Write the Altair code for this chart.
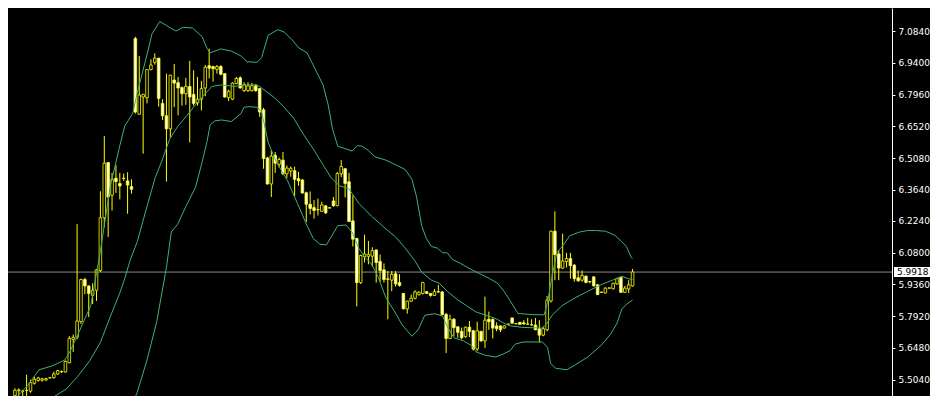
import altair as alt
import pandas as pd

# ---------------- data ----------------
opens = [5.432, 5.454, 5.453, 5.455, 5.452, 5.488, 5.501, 5.502, 5.503, 5.512,
         5.513, 5.530, 5.541, 5.539, 5.581, 5.687, 5.697, 5.767, 5.958, 5.929,
         5.886, 5.909, 5.999, 6.238, 6.488, 6.340, 6.417, 6.393, 6.417, 6.405,
         6.379, 7.050, 6.707, 6.785, 6.782, 6.909, 6.942, 6.961, 6.756, 6.700,
         6.641, 6.862, 6.850, 6.828, 6.800, 6.833, 6.797, 6.758, 6.775, 6.826,
         6.927, 6.923, 6.910, 6.923, 6.891, 6.782, 6.775, 6.846, 6.872, 6.814,
         6.814, 6.814, 6.836, 6.823, 6.727, 6.509, 6.391, 6.521, 6.480, 6.499,
         6.437, 6.450, 6.451, 6.415, 6.409, 6.351, 6.299, 6.284, 6.275, 6.267,
         6.292, 6.283, 6.314, 6.293, 6.437, 6.460, 6.401, 6.224, 6.144, 5.944,
         6.062, 6.063, 6.064, 6.092, 6.040, 6.002, 5.961, 5.955, 5.984, 5.944,
         5.895, 5.825, 5.860, 5.873, 5.889, 5.895, 5.903, 5.895, 5.886, 5.903,
         5.902, 5.800, 5.691, 5.778, 5.744, 5.723, 5.699, 5.742, 5.726, 5.643,
         5.723, 5.680, 5.778, 5.778, 5.748, 5.748, 5.738, 5.756, 5.784, 5.758,
         5.764, 5.762, 5.756, 5.753, 5.752, 5.735, 5.706, 5.730, 5.861, 6.177,
         6.074, 6.010, 6.040, 6.053, 6.023, 5.966, 5.955, 5.973, 5.949, 5.970,
         5.934, 5.901, 5.897, 5.920, 5.916, 5.938, 5.967, 5.900, 5.915, 5.929]
highs = [5.465, 5.465, 5.455, 5.527, 5.504, 5.517, 5.517, 5.513, 5.513, 5.515,
         5.540, 5.549, 5.545, 5.591, 5.701, 5.709, 6.209, 5.962, 5.966, 5.931,
         5.941, 6.006, 6.358, 6.608, 6.490, 6.441, 6.478, 6.441, 6.438, 6.444,
         6.412, 7.058, 6.971, 6.799, 6.910, 6.956, 6.983, 6.963, 6.775, 6.891,
         6.886, 6.935, 6.876, 6.833, 6.872, 6.949, 6.906, 6.876, 6.858, 6.930,
         7.004, 6.927, 6.930, 6.930, 6.893, 6.818, 6.852, 6.876, 6.879, 6.852,
         6.852, 6.849, 6.843, 6.826, 6.736, 6.514, 6.543, 6.536, 6.511, 6.536,
         6.475, 6.470, 6.470, 6.446, 6.414, 6.356, 6.357, 6.318, 6.325, 6.310,
         6.295, 6.285, 6.332, 6.445, 6.499, 6.462, 6.441, 6.340, 6.147, 6.071,
         6.161, 6.133, 6.104, 6.094, 6.071, 6.031, 5.996, 5.996, 5.996, 5.982,
         5.897, 5.862, 5.890, 5.909, 5.905, 5.948, 5.905, 5.897, 5.915, 5.934,
         5.905, 5.807, 5.799, 5.784, 5.745, 5.740, 5.745, 5.770, 5.730, 5.767,
         5.726, 5.880, 5.813, 5.781, 5.764, 5.749, 5.750, 5.757, 5.785, 5.758,
         5.765, 5.774, 5.784, 5.778, 5.784, 5.774, 5.745, 5.883, 6.180, 6.267,
         6.089, 6.166, 6.079, 6.079, 6.028, 5.999, 5.999, 5.977, 5.952, 5.973,
         5.938, 5.902, 5.923, 5.921, 5.944, 5.966, 5.970, 5.929, 5.955, 6.006]
lows = [5.428, 5.430, 5.430, 5.430, 5.445, 5.482, 5.495, 5.495, 5.498, 5.510,
        5.509, 5.526, 5.535, 5.537, 5.578, 5.630, 5.687, 5.757, 5.891, 5.788,
        5.847, 5.861, 5.992, 6.195, 6.151, 6.271, 6.350, 6.321, 6.405, 6.256,
        6.347, 6.710, 6.705, 6.528, 6.756, 6.906, 6.932, 6.741, 6.681, 6.402,
        6.601, 6.739, 6.702, 6.746, 6.750, 6.579, 6.746, 6.746, 6.724, 6.789,
        6.869, 6.855, 6.891, 6.884, 6.782, 6.767, 6.771, 6.843, 6.823, 6.808,
        6.808, 6.810, 6.808, 6.695, 6.460, 6.388, 6.332, 6.441, 6.466, 6.431,
        6.417, 6.424, 6.335, 6.383, 6.347, 6.219, 6.253, 6.234, 6.248, 6.266,
        6.255, 6.280, 6.288, 6.290, 6.422, 6.330, 6.219, 6.108, 5.836, 5.938,
        6.035, 6.027, 6.016, 5.944, 5.948, 5.944, 5.778, 5.905, 5.926, 5.926,
        5.823, 5.803, 5.857, 5.868, 5.886, 5.890, 5.893, 5.880, 5.883, 5.900,
        5.796, 5.625, 5.688, 5.701, 5.694, 5.687, 5.694, 5.697, 5.636, 5.633,
        5.675, 5.648, 5.730, 5.691, 5.723, 5.720, 5.736, 5.754, 5.759, 5.756,
        5.754, 5.752, 5.754, 5.749, 5.730, 5.673, 5.701, 5.723, 5.854, 5.955,
        5.955, 6.006, 6.013, 5.962, 5.948, 5.948, 5.948, 5.941, 5.941, 5.926,
        5.887, 5.898, 5.895, 5.918, 5.913, 5.934, 5.897, 5.897, 5.897, 5.926]
closes = [5.456, 5.458, 5.452, 5.456, 5.491, 5.506, 5.512, 5.508, 5.509, 5.513,
          5.530, 5.545, 5.540, 5.587, 5.691, 5.696, 5.770, 5.958, 5.929, 5.895,
          5.909, 6.002, 6.238, 6.485, 6.332, 6.412, 6.402, 6.382, 6.416, 6.386,
          6.367, 6.717, 6.794, 6.797, 6.909, 6.930, 6.961, 6.778, 6.700, 6.641,
          6.884, 6.848, 6.826, 6.800, 6.833, 6.785, 6.756, 6.775, 6.823, 6.920,
          6.916, 6.913, 6.923, 6.888, 6.785, 6.811, 6.848, 6.869, 6.826, 6.840,
          6.836, 6.836, 6.814, 6.717, 6.506, 6.391, 6.517, 6.485, 6.502, 6.437,
          6.463, 6.462, 6.412, 6.405, 6.350, 6.299, 6.280, 6.271, 6.274, 6.296,
          6.260, 6.282, 6.292, 6.438, 6.470, 6.393, 6.221, 6.141, 5.944, 6.067,
          6.074, 6.072, 6.089, 6.035, 5.999, 5.958, 5.959, 5.982, 5.938, 5.931,
          5.825, 5.860, 5.873, 5.902, 5.900, 5.944, 5.895, 5.886, 5.903, 5.901,
          5.799, 5.691, 5.778, 5.740, 5.719, 5.694, 5.742, 5.723, 5.643, 5.726,
          5.680, 5.774, 5.767, 5.738, 5.735, 5.730, 5.748, 5.755, 5.760, 5.757,
          5.755, 5.757, 5.755, 5.752, 5.730, 5.706, 5.735, 5.865, 6.177, 6.071,
          6.010, 6.042, 6.053, 6.021, 5.962, 5.952, 5.977, 5.945, 5.948, 5.929,
          5.890, 5.900, 5.919, 5.919, 5.941, 5.962, 5.900, 5.919, 5.934, 5.992]

# Bollinger bands (bar index, price)
upper_idx = [0, 3.25, 6.2, 9.5, 12.8, 14.1, 16.2, 19.5, 22, 24.5, 27, 28.25, 30.3, 31.5,
             33.7, 35.3, 37.3, 39, 40.5, 41.5, 43.2, 45.7, 48.2, 49.4, 50.25, 53, 55.7,
             58.2, 59.8, 62.3, 63.5, 65.2, 67.7, 69.3, 71.4, 73.1, 75.2, 77.25, 79.3,
             80.6, 81.8, 83.1, 85.2, 86.8, 88.1, 89.3, 91, 92.7, 95.5, 98, 100.5, 102.2,
             103.4, 104.7, 105.9, 107.2, 108.8, 110.1, 111.3, 112.6, 114.7, 117.2, 119.7,
             122.2, 124.25, 125.9, 127.5, 129.5, 133.25, 136.25, 137.1, 138.25, 139.5,
             141.2, 142.8, 145.3, 147.4, 149.5, 152, 154.5, 156.2, 157.4, 158.7, 159]
upper_val = [5.417, 5.477, 5.549, 5.566, 5.593, 5.629, 5.709, 5.839, 6.087, 6.376, 6.565,
             6.653, 6.710, 6.805, 6.956, 7.072, 7.127, 7.109, 7.093, 7.084, 7.101, 7.098,
             7.058, 7.007, 6.985, 7.003, 6.993, 6.971, 6.945, 6.942, 6.963, 7.065, 7.090,
             7.080, 7.043, 7.007, 6.985, 6.913, 6.840, 6.753, 6.637, 6.562, 6.550, 6.540,
             6.565, 6.562, 6.543, 6.514, 6.499, 6.478, 6.456, 6.412, 6.332, 6.202, 6.144,
             6.108, 6.100, 6.079, 6.079, 6.049, 6.031, 6.006, 5.984, 5.962, 5.941, 5.905,
             5.861, 5.804, 5.799, 5.798, 5.854, 5.970, 6.079, 6.115, 6.156, 6.173, 6.180,
             6.180, 6.177, 6.158, 6.129, 6.108, 6.057, 6.053]

middle_idx = [9.5, 10.3, 13.25, 16.2, 19.1, 22, 24.5, 27, 28.25, 29.7, 31.5, 34, 36.1,
              37.75, 39.8, 41.9, 44, 47.3, 49.4, 50.7, 53.2, 56.5, 59, 62.3, 63.5, 66.8,
              69.3, 71.8, 74.3, 76.8, 79.3, 81.4, 83.5, 86, 88.5, 91.8, 95.5, 98, 100.5,
              103, 104.7, 107.2, 109.25, 111.3, 113.8, 116.3, 118.8, 121.3, 123.8, 125.9,
              127.5, 130.75, 135.75, 136.7, 138.3, 140.8, 144.2, 147.5, 150.8, 154.2,
              156.25, 157.9, 159]
middle_val = [5.413, 5.430, 5.462, 5.520, 5.586, 5.673, 5.788, 5.897, 5.962, 6.048,
              6.130, 6.289, 6.419, 6.492, 6.593, 6.652, 6.695, 6.768, 6.808, 6.833, 6.840,
              6.833, 6.840, 6.840, 6.826, 6.782, 6.739, 6.688, 6.615, 6.550, 6.478, 6.419,
              6.383, 6.369, 6.304, 6.245, 6.187, 6.151, 6.100, 6.042, 5.992, 5.955, 5.941,
              5.905, 5.868, 5.839, 5.810, 5.796, 5.781, 5.760, 5.748, 5.741, 5.738, 5.752,
              5.796, 5.839, 5.875, 5.905, 5.934, 5.958, 5.973, 5.962, 5.958]

lower_idx = [30.5, 31.5, 34, 36.5, 39, 40.25, 41.9, 44, 46.5, 48.2, 49.4, 50.25, 51.5,
             53.2, 55.7, 58.2, 59, 60.25, 62.3, 63.5, 65.2, 67.25, 70.2, 72.7, 75.2, 76.8,
             78.5, 80.2, 81.4, 83.1, 85.2, 86.8, 88.5, 90.2, 91.8, 93.5, 95.5, 97.6, 99.7,
             102.2, 103.8, 105.5, 108, 110.1, 111.3, 113, 115.5, 117.6, 118.8, 121.3,
             123.8, 125.9, 127.5, 128.75, 130.8, 135.8, 137.1, 137.9, 139.2, 142.1, 144.2,
             147.5, 150.8, 153.3, 155, 156.25, 157.5, 159]
lower_val = [5.404, 5.448, 5.593, 5.767, 6.013, 6.173, 6.209, 6.289, 6.376, 6.492, 6.579,
             6.659, 6.677, 6.681, 6.674, 6.710, 6.739, 6.741, 6.739, 6.718, 6.579, 6.492,
             6.405, 6.304, 6.202, 6.144, 6.118, 6.115, 6.151, 6.202, 6.205, 6.173, 6.100,
             6.057, 6.028, 5.970, 5.875, 5.817, 5.752, 5.701, 5.730, 5.796, 5.803, 5.793,
             5.745, 5.694, 5.680, 5.658, 5.629, 5.614, 5.607, 5.622, 5.636, 5.665, 5.675,
             5.675, 5.651, 5.578, 5.556, 5.549, 5.571, 5.607, 5.658, 5.709, 5.760, 5.825,
             5.847, 5.865]

price_ticks = [5.504, 5.648, 5.792, 5.936, 6.080, 6.224, 6.364, 6.508, 6.652, 6.796,
               6.940, 7.084]
current_price = 5.9918
current_label = "5.9918"

# ---------------- tables ----------------
candles = pd.DataFrame({
    "bar": list(range(len(opens))),
    "open": opens, "high": highs, "low": lows, "close": closes,
})
candles["dir"] = ["up" if c > o else "down" for o, c in zip(opens, closes)]

bands = pd.concat([
    pd.DataFrame({"bar": upper_idx, "price": upper_val, "band": "upper"}),
    pd.DataFrame({"bar": middle_idx, "price": middle_val, "band": "middle"}),
    pd.DataFrame({"bar": lower_idx, "price": lower_val, "band": "lower"}),
])
cur = pd.DataFrame({"price": [current_price], "label": [current_label]})

W, H = 884, 388
YELLOW = "#FFFF00"
GREEN = "#3CB371"

xs = alt.Scale(domain=[-0.5, 224.5], nice=False, zero=False)
ys = alt.Scale(domain=[5.4302, 7.1884], nice=False, zero=False)


def yaxis():
    return alt.Axis(orient="right", values=price_ticks, format=".4f", title=None,
                    grid=False, domainColor="#FFFFFF", domainWidth=1,
                    tickColor="#FFFFFF", tickSize=3, tickWidth=1,
                    labelColor="#FFFFFF", labelFont="DejaVu Sans", labelFontSize=9,
                    labelPadding=3, labelFlush=False, labelOverlap=False,
                    labelBound=False)


hline = alt.Chart(cur).mark_rule(color="#8A8A8A", strokeWidth=1).encode(
    y=alt.Y("price:Q", scale=ys, axis=yaxis())
)

wicks = alt.Chart(candles).mark_rule(color=YELLOW, strokeWidth=1).encode(
    x=alt.X("bar:Q", scale=xs, axis=None),
    y=alt.Y("low:Q", scale=ys, axis=yaxis()),
    y2="high:Q",
)

bodies = alt.Chart(candles).mark_bar(size=2.6, stroke=YELLOW, strokeWidth=0.8).encode(
    x=alt.X("bar:Q", scale=xs, axis=None),
    y=alt.Y("open:Q", scale=ys, axis=yaxis()),
    y2="close:Q",
    fill=alt.Fill("dir:N", scale=alt.Scale(domain=["up", "down"],
                                          range=["#000000", "#FFFFFF"]), legend=None),
)

band_lines = alt.Chart(bands).mark_line(strokeWidth=1, clip=True, color=GREEN).encode(
    x=alt.X("bar:Q", scale=xs, axis=None),
    y=alt.Y("price:Q", scale=ys, axis=yaxis()),
    detail="band:N",
)

box = alt.Chart(cur).mark_rect(fill="#FFFFFF", yOffset=-5, y2Offset=5).encode(
    x=alt.value(W + 2), x2=alt.value(W + 38),
    y=alt.Y("price:Q", scale=ys, axis=yaxis()), y2="price:Q",
)
box_text = alt.Chart(cur).mark_text(align="left", baseline="middle", color="#000000",
                                    font="DejaVu Sans", fontSize=9).encode(
    x=alt.value(W + 5), y=alt.Y("price:Q", scale=ys, axis=yaxis()), text="label:N",
)

chart = alt.layer(hline, wicks, bodies, band_lines, box, box_text).properties(
    width=W, height=H,
    autosize=alt.AutoSizeParams(type="none"),
    padding={"left": 0, "top": 0, "right": 38, "bottom": 0},
    background="#000000",
).configure_view(stroke=None).configure_axis(labelOverlap=False)

chart.save("out.html", embed_options={"renderer": "svg", "actions": False})
